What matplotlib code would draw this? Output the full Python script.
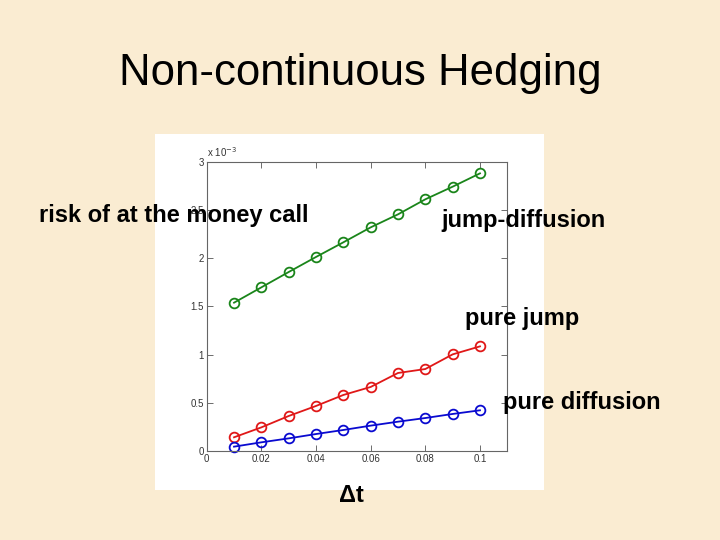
import matplotlib.pyplot as plt
from matplotlib.patches import Rectangle
from matplotlib.ticker import FuncFormatter

plt.rcParams['font.family'] = ['Liberation Sans', 'DejaVu Sans']

dt = [0.01, 0.02, 0.03, 0.04, 0.05, 0.06, 0.07, 0.08, 0.09, 0.10]
jump_diffusion = [1.538e-3, 1.697e-3, 1.856e-3, 2.012e-3, 2.164e-3,
                  2.319e-3, 2.454e-3, 2.610e-3, 2.741e-3, 2.879e-3]
pure_jump = [0.142e-3, 0.245e-3, 0.363e-3, 0.467e-3, 0.581e-3,
             0.664e-3, 0.809e-3, 0.850e-3, 1.002e-3, 1.085e-3]
pure_diffusion = [0.045e-3, 0.090e-3, 0.131e-3, 0.176e-3, 0.218e-3,
                  0.263e-3, 0.304e-3, 0.342e-3, 0.384e-3, 0.422e-3]

xticks = [0, 0.02, 0.04, 0.06, 0.08, 0.1]
yticks = [0, 0.5e-3, 1e-3, 1.5e-3, 2e-3, 2.5e-3, 3e-3]

fig = plt.figure(figsize=(7.2, 5.4), dpi=100)
fig.patch.set_facecolor('#faecd2')

# white picture box behind the plot
fig.patches.append(Rectangle((155/720, 50/540), 389/720, 356/540,
                             transform=fig.transFigure, facecolor='white',
                             edgecolor='none', zorder=-1))

ax = fig.add_axes([206.7/720, 89/540, 300.6/720, 289.3/540])
ax.set_zorder(1)
ax.set_facecolor('white')

for y, c in [(jump_diffusion, '#1a851a'), (pure_jump, '#e01818'), (pure_diffusion, '#0a0ad0')]:
    ax.plot(dt, y, color=c, linewidth=1.3, marker='o', markersize=7,
            markerfacecolor='none', markeredgewidth=1.3, clip_on=False)

ax.set_xlim(0, 0.11)
ax.set_ylim(0, 3e-3)
ax.set_xticks(xticks)
ax.set_yticks(yticks)
ax.xaxis.set_major_formatter(FuncFormatter(lambda v, p: f'{v:g}'))
ax.yaxis.set_major_formatter(FuncFormatter(lambda v, p: f'{v*1e3:g}'))
ax.tick_params(direction='in', length=4, width=0.6, color='#555555',
               labelsize=7, labelcolor='#333333', top=True, right=True, pad=2)
for s in ax.spines.values():
    s.set_color('#666666')
    s.set_linewidth(0.8)
ax.text(0.0, 1.01, 'x 10$^{-3}$', transform=ax.transAxes, fontsize=7,
        color='#333333', ha='left', va='bottom')

fig.text(0.5, 1 - 85/540, 'Non-continuous Hedging', fontsize=31.5,
         ha='center', va='baseline', zorder=3)

bold = dict(fontsize=17, fontweight='bold', va='baseline', zorder=3)
fig.text(39/720, 1 - 222/540, 'risk of at the money call', ha='left', **bold)
fig.text(441/720, 1 - 227/540, 'jump-diffusion', ha='left', **bold)
fig.text(465/720, 1 - 325/540, 'pure jump', ha='left', **bold)
fig.text(503/720, 1 - 409/540, 'pure diffusion', ha='left', **bold)
fig.text(339/720, 1 - 502/540, 'Δt', ha='left', **bold)

fig.savefig('out.png', dpi=100, facecolor=fig.get_facecolor())
